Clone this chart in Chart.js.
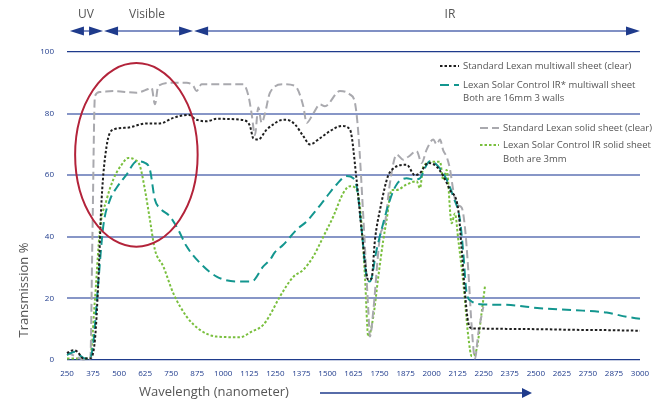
<!DOCTYPE html>
<html>
<head>
<meta charset="utf-8">
<script src="https://cdn.jsdelivr.net/npm/chart.js@4.4.0/dist/chart.umd.min.js"></script>
<style>
  html, body { margin: 0; padding: 0; background: #fff; }
  #wrap { width: 668px; height: 403px; }
</style>
</head>
<body>
<div id="wrap"><canvas id="transChart"></canvas></div>
<script>
// tick labels
const xTickValues = [250, 375, 500, 625, 750, 875, 1000, 1125, 1250, 1375, 1500, 1625, 1750, 1875, 2000, 2125, 2250, 2375, 2500, 2625, 2750, 2875, 3000];
const yTickValues = [0, 20, 40, 60, 80, 100];

// spectral bands shown with arrows above the plot (nm)
const bandNames = ["UV", "Visible", "IR"];
const bandStart = [264, 428, 860];
const bandEnd = [423, 855, 3000];
const bandLabelAt = [341, 634, 2088];

// Standard Lexan multiwall sheet (clear)
const stdMultiX = [250, 280, 300, 328, 360, 384, 400, 416, 440, 472, 536, 632, 696, 760, 832, 872, 920, 968, 1096, 1128, 1144, 1168, 1208, 1240, 1272, 1304, 1344, 1384, 1416, 1464, 1512, 1568, 1608, 1640, 1664, 1696, 1712, 1728, 1752, 1800, 1880, 1920, 1944, 1984, 2024, 2056, 2088, 2128, 2144, 2160, 2176, 2192, 2232, 2360, 2520, 2680, 2840, 3000];
const stdMultiY = [2.2, 3.2, 2.7, 0.5, 0.5, 6.5, 25, 52, 69.4, 74.8, 75.4, 76.8, 76.8, 78.6, 79.6, 78, 77.5, 78.3, 77.9, 76, 72, 71.6, 74.8, 76.5, 77.8, 78, 76.5, 72.7, 70, 72, 74.3, 76, 74.8, 58.4, 42.2, 26, 26.5, 39, 48.7, 61, 63.4, 60, 60.7, 64, 62.8, 59.7, 55.2, 48.7, 36, 21.7, 12, 10.3, 10.2, 10.1, 10, 9.8, 9.7, 9.5];

// Lexan Solar Control IR* multiwall sheet
const scMultiX = [250, 288, 312, 336, 360, 376, 400, 424, 456, 488, 536, 584, 624, 648, 672, 696, 744, 784, 824, 888, 968, 1064, 1136, 1192, 1224, 1248, 1288, 1352, 1400, 1448, 1496, 1544, 1592, 1624, 1643, 1664, 1688, 1704, 1736, 1768, 1800, 1832, 1880, 1912, 1944, 1968, 1992, 2024, 2072, 2104, 2136, 2152, 2168, 2192, 2232, 2360, 2520, 2680, 2840, 2936, 3000];
const scMultiY = [1.6, 2.7, 1.5, 0.5, 0.5, 5.4, 25, 43.4, 52, 55.9, 60.2, 64.5, 64, 61.8, 52, 49.3, 46.6, 42.3, 36.9, 31.5, 27.1, 25.5, 25.5, 30.4, 32.5, 35, 37.4, 42.3, 45, 48.8, 53, 57, 59.7, 59, 55.3, 42.3, 27, 25.5, 35.8, 44.5, 52, 57, 59, 58.6, 59, 62.4, 64.5, 63.4, 58.6, 53, 45.5, 34.7, 21.7, 19, 18.1, 17.9, 16.8, 16.2, 15.4, 14, 13.4];

// Standard Lexan solid sheet (clear)
const stdSolidX = [250, 290, 327, 362, 372, 384, 408, 472, 584, 640, 656, 672, 688, 760, 824, 856, 872, 896, 968, 1096, 1120, 1136, 1152, 1168, 1184, 1200, 1224, 1288, 1344, 1384, 1400, 1432, 1464, 1488, 1560, 1608, 1632, 1648, 1672, 1696, 1704, 1720, 1752, 1776, 1800, 1832, 1864, 1888, 1928, 1952, 1976, 2008, 2024, 2040, 2056, 2072, 2088, 2104, 2120, 2144, 2160, 2176, 2192, 2208, 2224, 2248];
const stdSolidY = [2.7, 1.2, 0.2, 0.5, 40, 85.7, 87, 87.3, 86.8, 88, 88.4, 83, 89, 90, 90, 89, 87.3, 89.5, 89.5, 89.5, 86, 80, 73, 82, 77, 80, 86.8, 89.5, 89, 82.4, 77, 80, 83, 82.4, 87.3, 86.2, 83.5, 73.8, 46.6, 16.3, 7.6, 16, 40, 44.5, 57.5, 66.7, 65, 66, 67.8, 64, 68.3, 71.6, 70, 71.6, 68, 66, 62, 55, 50.5, 49.5, 43, 29, 11, 0.5, 8.7, 17.3];

// Lexan Solar Control IR solid sheet
const scSolidX = [250, 300, 360, 384, 408, 440, 472, 512, 544, 576, 600, 624, 648, 672, 712, 760, 824, 888, 968, 1080, 1136, 1192, 1224, 1272, 1336, 1384, 1432, 1480, 1528, 1576, 1608, 1632, 1656, 1680, 1696, 1720, 1744, 1768, 1784, 1808, 1832, 1880, 1928, 1944, 1960, 2008, 2040, 2056, 2072, 2096, 2112, 2128, 2152, 2176, 2192, 2216, 2240, 2256];
const scSolidY = [0.5, 0.5, 0.5, 19.5, 42.3, 52, 58.6, 63.4, 65.6, 65, 63, 55.3, 45.5, 35.8, 30.4, 21.7, 14.1, 9.8, 7.6, 7.4, 9.2, 11.4, 14.6, 20.6, 27, 29.3, 33.6, 40, 46.6, 54.2, 56.4, 56, 49.8, 27, 7.6, 14, 27, 39, 45.5, 55.2, 55.2, 57, 58, 55.8, 62.8, 64.4, 64.4, 58.4, 61.7, 44.4, 47.6, 39, 25, 7.6, 1.3, 3.5, 15.4, 24];

// red ellipse around the visible range: centre (nm, %) and half sizes
const highlightCentre = [583, 66.6];
const highlightHalf = [294, 29.8];

function toPoints(xs, ys) {
  return xs.map((v, i) => ({ x: v, y: ys[i] }));
}

const fontFamily = "'Open Sans', 'Noto Sans', sans-serif";
const navy = "#1f3b8c";
const textGrey = "#555555";

const seriesStyles = [
  { label: "Standard Lexan multiwall sheet (clear)", color: "#1e1e1e", dash: [2.5, 2], x: stdMultiX, y: stdMultiY },
  { label: "Lexan Solar Control IR* multiwall sheet", color: "#13968f", dash: [9, 5], x: scMultiX, y: scMultiY },
  { label: "Standard Lexan solid sheet (clear)", color: "#a9a9ae", dash: [8, 4], x: stdSolidX, y: stdSolidY },
  { label: "Lexan Solar Control IR solid sheet", color: "#79bf3d", dash: [2.5, 2], x: scSolidX, y: scSolidY },
];

// draws the band arrows, ellipse, legend block and axis titles
const decorations = {
  id: "decorations",
  afterDatasetsDraw(chart) {
    const { ctx, scales: { x, y } } = chart;
    ctx.save();

    // red ellipse
    const cx = x.getPixelForValue(highlightCentre[0]);
    const cy = y.getPixelForValue(highlightCentre[1]);
    const rx = x.getPixelForValue(highlightCentre[0] + highlightHalf[0]) - cx;
    const ry = cy - y.getPixelForValue(highlightCentre[1] + highlightHalf[1]);
    ctx.beginPath();
    ctx.ellipse(cx, cy, rx, ry, 0, 0, Math.PI * 2);
    ctx.strokeStyle = "#b3233a";
    ctx.lineWidth = 2;
    ctx.stroke();

    // band arrows on top
    const arrowY = 31;
    const triLen = 14;
    const triHalf = 4.5;
    bandNames.forEach((name, i) => {
      const a = x.getPixelForValue(bandStart[i]);
      const b = x.getPixelForValue(bandEnd[i]);
      ctx.strokeStyle = "#8090c4";
      ctx.lineWidth = 2;
      ctx.beginPath();
      ctx.moveTo(a + triLen, arrowY);
      ctx.lineTo(b - triLen, arrowY);
      ctx.stroke();
      ctx.fillStyle = navy;
      ctx.beginPath();
      ctx.moveTo(a, arrowY);
      ctx.lineTo(a + triLen, arrowY - triHalf);
      ctx.lineTo(a + triLen, arrowY + triHalf);
      ctx.closePath();
      ctx.fill();
      ctx.beginPath();
      ctx.moveTo(b, arrowY);
      ctx.lineTo(b - triLen, arrowY - triHalf);
      ctx.lineTo(b - triLen, arrowY + triHalf);
      ctx.closePath();
      ctx.fill();

      ctx.fillStyle = textGrey;
      ctx.font = "12px " + fontFamily;
      ctx.textAlign = "center";
      ctx.textBaseline = "middle";
      ctx.fillText(name, x.getPixelForValue(bandLabelAt[i]), 15);
    });

    // legend
    ctx.font = "9.5px " + fontFamily;
    ctx.textAlign = "left";
    ctx.textBaseline = "middle";
    const legendRows = [
      { s: 0, lx: 440, rowY: 66 },
      { s: 1, lx: 440, rowY: 85 },
      { text: "Both are 16mm 3 walls", lx: 440, rowY: 98 },
      { s: 2, lx: 480, rowY: 128 },
      { s: 3, lx: 480, rowY: 145 },
      { text: "Both are 3mm", lx: 480, rowY: 159 },
    ];
    legendRows.forEach((r) => {
      if (r.s !== undefined) {
        const st = seriesStyles[r.s];
        ctx.strokeStyle = st.color;
        ctx.lineWidth = 2;
        ctx.setLineDash(st.dash);
        ctx.beginPath();
        ctx.moveTo(r.lx, r.rowY);
        ctx.lineTo(r.lx + 19, r.rowY);
        ctx.stroke();
        ctx.setLineDash([]);
      }
      ctx.fillStyle = textGrey;
      ctx.fillText(r.text || seriesStyles[r.s].label, r.lx + 23, r.rowY);
    });

    // axis titles
    ctx.font = "13px " + fontFamily;
    ctx.fillStyle = textGrey;
    ctx.textAlign = "center";
    ctx.fillText("Wavelength (nanometer)", 214, 392);
    ctx.save();
    ctx.translate(24, 290);
    ctx.rotate(-Math.PI / 2);
    ctx.fillText("Transmission %", 0, 0);
    ctx.restore();

    // arrow after the x title
    ctx.strokeStyle = navy;
    ctx.lineWidth = 1.5;
    ctx.beginPath();
    ctx.moveTo(320, 393);
    ctx.lineTo(524, 393);
    ctx.stroke();
    ctx.fillStyle = navy;
    ctx.beginPath();
    ctx.moveTo(532, 393);
    ctx.lineTo(522, 388);
    ctx.lineTo(522, 398);
    ctx.closePath();
    ctx.fill();

    ctx.restore();
  },
};

const ctx = document.getElementById("transChart").getContext("2d");
const myChart = new Chart(ctx, {
  type: "line",
  data: {
    datasets: seriesStyles.map((st) => ({
      label: st.label,
      data: toPoints(st.x, st.y),
      borderColor: st.color,
      borderDash: st.dash,
      borderWidth: 2,
      pointRadius: 0,
      fill: false,
      cubicInterpolationMode: "monotone",
      clip: 4,
    })),
  },
  options: {
    responsive: true,
    maintainAspectRatio: false,
    animation: false,
    layout: { padding: { top: 52, right: 28, left: 0, bottom: 0 } },
    plugins: {
      legend: { display: false },
      tooltip: { enabled: false },
    },
    scales: {
      x: {
        type: "linear",
        min: 250,
        max: 3000,
        afterFit: (axis) => { axis.height = 43; },
        afterBuildTicks: (axis) => { axis.ticks = xTickValues.map((v) => ({ value: v })); },
        grid: { display: false, drawTicks: false },
        border: { display: false },
        ticks: {
          autoSkip: false,
          maxRotation: 0,
          padding: 9,
          color: navy,
          font: { family: fontFamily, size: 8 },
          callback: (v) => String(v),
        },
      },
      y: {
        min: 0,
        max: 100,
        afterFit: (axis) => { axis.width = 67; },
        afterBuildTicks: (axis) => { axis.ticks = yTickValues.map((v) => ({ value: v })); },
        border: { display: false },
        grid: {
          drawTicks: false,
          color: (c) => (c.tick.value === 0 || c.tick.value === 100 ? navy : "#8796c7"),
          lineWidth: (c) => (c.tick.value === 0 || c.tick.value === 100 ? 1.3 : 2),
        },
        ticks: {
          padding: 13,
          color: navy,
          font: { family: fontFamily, size: 8 },
          callback: (v) => String(v),
        },
      },
    },
  },
  plugins: [decorations],
});
</script>
</body>
</html>
